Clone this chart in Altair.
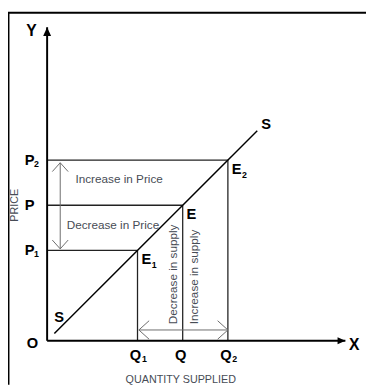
import altair as alt
import pandas as pd

# ---- values (economic units) ----
quantity_levels = [20, 30, 40]          # Q1, Q, Q2
price_levels = [20, 30, 40]             # P1, P, P2
level_subs = ["1", "", "2"]
supply_q = [1.6, 46.5]                  # supply curve S end points
supply_p = [1.6, 46.5]
axis_x_end = 66.0
axis_y_end = 69.4
price_arrow_q = 2.9                     # where the price-change arrow stands
qty_arrow_p = 2.4                       # where the supply-change arrow stands

FONT = "Arial, Liberation Sans"
TXT = "#474c55"
ARROW = "#6a6a6a"

xs = alt.Scale(domain=[-8.658, 70.563], nice=False, zero=False)
ys = alt.Scale(domain=[-9.74, 72.73], nice=False, zero=False)

lev = pd.DataFrame({"q": quantity_levels, "p": price_levels, "sub": level_subs, "zero": 0})

def X(f):
    return alt.X(f, type="quantitative", scale=xs, axis=None)

def Y(f):
    return alt.Y(f, type="quantitative", scale=ys, axis=None)

layers = []

# frame (top and left edges)
layers.append(alt.Chart(pd.DataFrame({"a": [0]})).mark_rule(color="black", strokeWidth=2).encode(
    x=alt.value(0.5), y=alt.value(0), y2=alt.value(381)))
layers.append(alt.Chart(pd.DataFrame({"a": [0]})).mark_rule(color="black", strokeWidth=2).encode(
    x=alt.value(0), x2=alt.value(366), y=alt.value(0.5)))

# level lines
hl = lev.assign(x0=0)
layers.append(alt.Chart(hl).mark_rule(color="#222", strokeWidth=1.3).encode(
    x=X("x0"), x2="q", y=Y("p")))
layers.append(alt.Chart(hl).mark_rule(color="#222", strokeWidth=1.3).encode(
    x=X("q"), y=Y("zero"), y2="p"))

# supply line
sdf = pd.DataFrame({"q": supply_q, "p": supply_p})
layers.append(alt.Chart(sdf).mark_line(color="black", strokeWidth=1.5).encode(
    x=X("q"), y=Y("p")))

# axes
layers.append(alt.Chart(pd.DataFrame({"x0": [0], "x1": [axis_x_end], "y0": [0]})).mark_rule(
    color="black", strokeWidth=2).encode(x=X("x0"), x2="x1", y=Y("y0")))
layers.append(alt.Chart(pd.DataFrame({"x0": [0], "y0": [0], "y1": [axis_y_end]})).mark_rule(
    color="black", strokeWidth=2).encode(x=X("x0"), y=Y("y0"), y2="y1"))
tri = "M-0.45,1L0,0L0.45,1Z"
layers.append(alt.Chart(pd.DataFrame({"q": [0], "p": [axis_y_end]})).mark_point(
    shape=tri, filled=True, size=324, color="black", opacity=1, strokeWidth=0).encode(x=X("q"), y=Y("p")))
layers.append(alt.Chart(pd.DataFrame({"q": [axis_x_end], "p": [0]})).mark_point(
    shape=tri, filled=True, size=256, color="black", opacity=1, strokeWidth=0, angle=90).encode(x=X("q"), y=Y("p")))

# price change arrow (P2 <-> P1)
pa = pd.DataFrame({"q": [price_arrow_q], "top": [max(price_levels) - 0.6], "bot": [min(price_levels) + 0.35]})
layers.append(alt.Chart(pa).mark_rule(color=ARROW, strokeWidth=1).encode(x=X("q"), y=Y("top"), y2="bot"))
chev = "M-0.9,1L0,0L0.9,1"
layers.append(alt.Chart(pa).mark_point(shape=chev, filled=False, size=324, color=ARROW, opacity=1,
                                       strokeWidth=1).encode(x=X("q"), y=Y("top")))
layers.append(alt.Chart(pa).mark_point(shape=chev, filled=False, size=324, color=ARROW, opacity=1,
                                       strokeWidth=1, angle=180).encode(x=X("q"), y=Y("bot")))

# supply change arrow (Q1 <-> Q2)
qa = pd.DataFrame({"p": [qty_arrow_p], "left": [min(quantity_levels) + 0.3], "right": [max(quantity_levels)]})
layers.append(alt.Chart(qa).mark_rule(color=ARROW, strokeWidth=1).encode(x=X("left"), x2="right", y=Y("p")))
layers.append(alt.Chart(qa).mark_point(shape=chev, filled=False, size=441, color=ARROW, opacity=1,
                                       strokeWidth=1, angle=270).encode(x=X("left"), y=Y("p")))
layers.append(alt.Chart(qa).mark_point(shape=chev, filled=False, size=441, color=ARROW, opacity=1,
                                       strokeWidth=1, angle=90).encode(x=X("right"), y=Y("p")))

def big(df, xf, yf, text, dx, dy, size=15):
    return alt.Chart(df).mark_text(font=FONT, fontSize=size, fontWeight="bold", color="black",
                                   dx=dx, dy=dy, align="center", baseline="middle").encode(
        x=X(xf), y=Y(yf), text=text)

# P labels
lev_p = lev.assign(P="P", Q="Q", E="E")
layers.append(big(lev_p, "zero", "p", "P:N", -18, 0))
layers.append(big(lev_p, "zero", "p", "sub:N", -11, 4, size=9))
# Q labels
layers.append(big(lev_p, "q", "zero", "Q:N", -2, 15))
layers.append(big(lev_p, "q", "zero", "sub:N", 7, 19, size=9))
# E labels
layers.append(big(lev_p, "q", "p", "E:N", 9, 9))
layers.append(big(lev_p, "q", "p", "sub:N", 17, 15, size=9))
# S labels
sl = sdf.assign(t="S")
layers.append(big(sl.iloc[[1]], "q", "p", "t:N", 9, -7))
layers.append(big(sl.iloc[[0]], "q", "p", "t:N", 5, -17))
# axis letters
layers.append(big(pd.DataFrame({"q": [0], "p": [0], "t": ["O"]}), "q", "p", "t:N", -15, 2))
layers.append(big(pd.DataFrame({"q": [0], "p": [axis_y_end], "t": ["Y"]}), "q", "p", "t:N", -16, 4, size=16))
layers.append(big(pd.DataFrame({"q": [axis_x_end], "p": [0], "t": ["X"]}), "q", "p", "t:N", 9, 4, size=16))

def small(df, xf, yf, text, dx, dy, align="left", angle=0, size=12):
    kw = dict(font=FONT, fontSize=size, color=TXT, dx=dx, dy=dy, align=align, baseline="middle")
    if angle:
        kw["angle"] = angle
    return alt.Chart(df).mark_text(**kw).encode(x=X(xf), y=Y(yf), text=text)

mid_hi = (price_levels[1] + price_levels[2]) / 2
mid_lo = (price_levels[0] + price_levels[1]) / 2
layers.append(small(pd.DataFrame({"q": [0], "p": [mid_hi], "t": ["Increase in Price"]}), "q", "p", "t:N", 29, -4))
layers.append(small(pd.DataFrame({"q": [0], "p": [mid_lo], "t": ["Decrease in Price"]}), "q", "p", "t:N", 20, -3))
qmid = quantity_levels[1]
# rotated text: dx runs along the text (upwards), dy across it (positive = right)
layers.append(small(pd.DataFrame({"q": [qmid], "p": [0], "t": ["Decrease in supply"]}), "q", "p", "t:N",
                    17, -10, angle=270))
layers.append(small(pd.DataFrame({"q": [qmid], "p": [0], "t": ["Increase in supply"]}), "q", "p", "t:N",
                    17, 12, angle=270))
layers.append(small(pd.DataFrame({"q": [qmid], "p": [0], "t": ["QUANTITY SUPPLIED"]}), "q", "p", "t:N",
                    -2, 40, align="center", size=11))
layers.append(small(pd.DataFrame({"q": [0], "p": [price_levels[1]], "t": ["PRICE"]}), "q", "p", "t:N",
                    0, -33, align="center", angle=270, size=11))

chart = alt.layer(*layers).properties(
    width=366, height=381, padding=0,
    autosize=alt.AutoSizeParams(type="none"), background="white"
).configure_view(stroke=None)

chart.save("out.html", embed_options={"renderer": "svg", "actions": False})
